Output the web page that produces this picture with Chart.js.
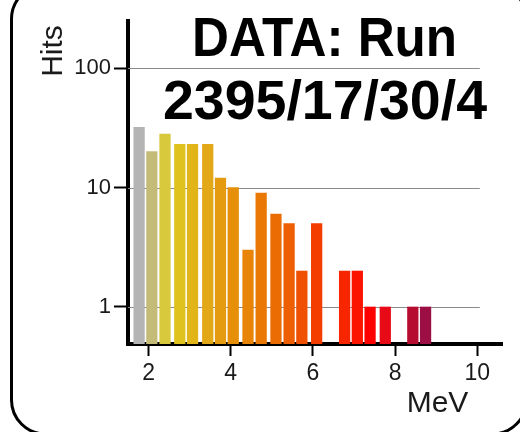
<!DOCTYPE html>
<html>
<head>
<meta charset="utf-8">
<script src="https://cdn.jsdelivr.net/npm/chart.js@4/dist/chart.umd.min.js"></script>
<style>
  html, body { margin: 0; padding: 0; background: #fff; }
  canvas { display: block; }
</style>
</head>
<body>
<canvas id="hist" width="520" height="432"></canvas>
<script>
// Energy deposits (MeV) and hit counts per bin
const energies = [1.77, 2.08, 2.40, 2.76, 3.07, 3.44, 3.75, 4.06, 4.42, 4.74,
                  5.10, 5.42, 5.73, 6.09, 6.77, 7.08, 7.39, 7.76, 8.43, 8.74];
const hits = [32, 20, 28, 23, 23, 23, 12, 10, 3, 9,
              6, 5, 2, 5, 2, 2, 1, 1, 1, 1];
const barColors = ['#b4b4b4', '#c4bb78', '#d8c83c', '#dfc21e', '#e1b51a',
                   '#e2a817', '#e49b10', '#e6900a', '#e88407', '#ea7805',
                   '#ec6c04', '#ee5e03', '#f05002', '#f43d00', '#f72600',
                   '#fb1500', '#ff0000', '#e80a17', '#b60c30', '#9c0f44'];
const xTicks = [2, 4, 6, 8, 10];
const yTicks = [1, 10, 100];
const titleLines = ['DATA: Run', '2395/17/30/4'];
const xTitle = 'MeV';
const yTitle = 'Hits';

const FONT = "'Liberation Sans', Arial, Helvetica, sans-serif";

// Horizontal grid lines, stopping just past the last x tick
const gridPlugin = {
  id: 'partialGrid',
  beforeDatasetsDraw(chart) {
    const { ctx, chartArea, scales } = chart;
    const xEnd = scales.x.getPixelForValue(10.06);
    ctx.save();
    ctx.strokeStyle = '#8a8a8a';
    ctx.lineWidth = 1.2;
    yTicks.forEach(v => {
      const y = Math.round(scales.y.getPixelForValue(v)) + 0.5;
      ctx.beginPath();
      ctx.moveTo(chartArea.left, y);
      ctx.lineTo(xEnd, y);
      ctx.stroke();
    });
    ctx.restore();
  }
};

// Titles, axis names and the rounded frame
const decorPlugin = {
  id: 'decor',
  afterDraw(chart) {
    const { ctx } = chart;
    ctx.save();
    ctx.fillStyle = '#000';

    ctx.font = `bold 56px ${FONT}`;
    ctx.textAlign = 'center';
    ctx.textBaseline = 'alphabetic';
    ctx.fillText(titleLines[0], 324.5, 56, 265);
    ctx.fillText(titleLines[1], 325, 119, 324);

    ctx.fillStyle = '#1a1a1a';
    ctx.font = `30px ${FONT}`;
    ctx.fillText(xTitle, 437.5, 412);

    ctx.save();
    ctx.translate(62, 51);
    ctx.rotate(-Math.PI / 2);
    ctx.fillText(yTitle, 0, 0);
    ctx.restore();

    ctx.strokeStyle = '#000';
    ctx.lineWidth = 3;
    ctx.beginPath();
    ctx.roundRect(11.5, -15, 515, 449, 34);
    ctx.stroke();
    ctx.restore();
  }
};

new Chart(document.getElementById('hist'), {
  type: 'bar',
  data: {
    datasets: [{
      data: energies.map((e, i) => ({ x: e, y: hits[i] })),
      backgroundColor: barColors,
      borderWidth: 0,
      barThickness: 10.6
    }]
  },
  options: {
    responsive: false,
    animation: false,
    devicePixelRatio: 1,
    layout: { padding: { top: 21, right: 18, left: 0, bottom: 0 } },
    plugins: { legend: { display: false }, tooltip: { enabled: false } },
    scales: {
      x: {
        type: 'linear',
        min: 1.5,
        max: 10.6,
        offset: false,
        afterBuildTicks: s => { s.ticks = xTicks.map(v => ({ value: v })); },
        afterFit: s => { s.height = 88; },
        grid: {
          offset: false,
          drawOnChartArea: false,
          drawTicks: true,
          tickLength: 12,
          tickWidth: 2,
          tickColor: '#000',
          color: '#000'
        },
        border: { display: true, color: '#000', width: 4 },
        ticks: {
          font: { family: FONT, size: 23 },
          color: '#1a1a1a',
          padding: 4,
          maxRotation: 0,
          autoSkip: false,
          callback: v => String(v)
        }
      },
      y: {
        type: 'logarithmic',
        min: 0.49,
        max: 248,
        afterBuildTicks: s => { s.ticks = yTicks.map(v => ({ value: v })); },
        afterFit: s => { s.width = 128; },
        grid: {
          drawOnChartArea: false,
          drawTicks: true,
          tickLength: 14,
          tickWidth: 2,
          tickColor: '#000',
          color: '#000'
        },
        border: { display: true, color: '#000', width: 4 },
        ticks: {
          font: { family: FONT, size: 22 },
          color: '#1a1a1a',
          padding: 3,
          autoSkip: false,
          callback: v => String(v)
        }
      }
    }
  },
  plugins: [gridPlugin, decorPlugin]
});
</script>
</body>
</html>
